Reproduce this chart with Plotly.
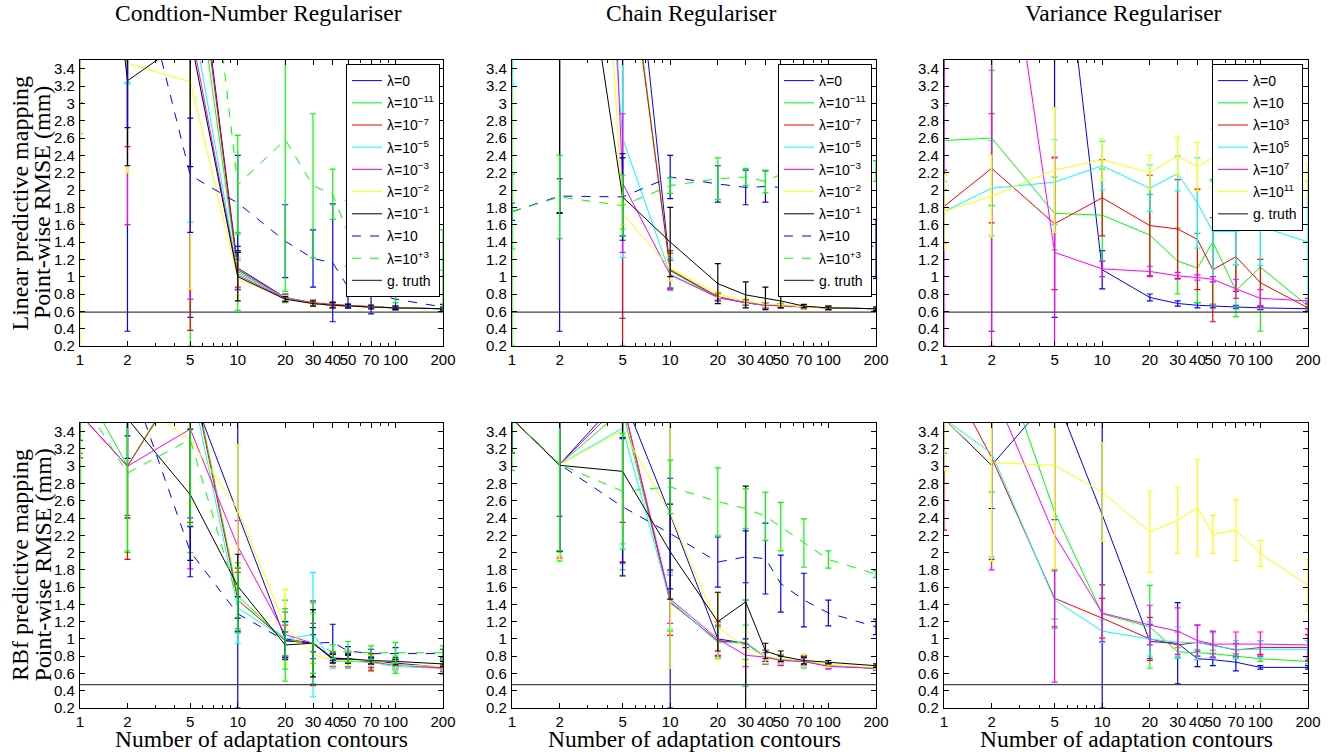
import plotly.graph_objects as go
from plotly.subplots import make_subplots

# ---------------- data ----------------
X_CONTOURS = [1, 2, 5, 10, 20, 30, 40, 50, 70, 100, 200]
X_TICK_LABELS = ["1", "2", "5", "10", "20", "30", "40", "50", "70", "100", "200"]
X_MINOR = [3, 4, 6, 7, 8, 9, 60, 80, 90]
Y_TICKS = [0.2, 0.4, 0.6, 0.8, 1.0, 1.2, 1.4, 1.6, 1.8, 2.0, 2.2, 2.4, 2.6, 2.8, 3.0, 3.2, 3.4]
Y_TICK_LABELS = ["0.2", "0.4", "0.6", "0.8", "1", "1.2", "1.4", "1.6", "1.8", "2",
                 "2.2", "2.4", "2.6", "2.8", "3", "3.2", "3.4"]

PANEL_TITLES = ["Condtion-Number Regulariser", "Chain Regulariser", "Variance Regulariser"]
ROW_TITLES = [("Linear predictive mapping", "Point-wise RMSE (mm)"),
              ("RBf predictive mapping", "Point-wise RMSE (mm)")]
X_TITLE = "Number of adaptation contours"

LAMBDA_CN = ["λ=0", "λ=10<sup>−11</sup>", "λ=10<sup>−7</sup>", "λ=10<sup>−5</sup>",
             "λ=10<sup>−3</sup>", "λ=10<sup>−2</sup>", "λ=10<sup>−1</sup>", "λ=10",
             "λ=10<sup>+3</sup>"]
LAMBDA_VAR = ["λ=0", "λ=10", "λ=10<sup>3</sup>", "λ=10<sup>5</sup>", "λ=10<sup>7</sup>",
              "λ=10<sup>11</sup>"]
GT_LABEL = "g. truth"
GT_LINEAR = 0.59
GT_RBF = 0.47

# Condition-number regulariser, linear mapping (mean RMSE, error half-width)
CN_LIN_Y = [
    [6.0, 5.0, 5.5, 1.10, 0.76, 0.69, 0.67, 0.66, 0.65, 0.64, 0.63],
    [6.0, 5.2, 5.0, 1.06, 0.75, 0.69, 0.67, 0.66, 0.65, 0.64, 0.63],
    [6.0, 5.0, 5.38, 1.08, 0.76, 0.70, 0.68, 0.67, 0.65, 0.64, 0.63],
    [5.5, 4.2, 4.13, 1.04, 0.76, 0.69, 0.67, 0.66, 0.65, 0.64, 0.63],
    [5.5, 4.5, 3.88, 1.02, 0.75, 0.69, 0.67, 0.66, 0.65, 0.64, 0.63],
    [4.0, 3.46, 3.25, 0.98, 0.74, 0.69, 0.67, 0.66, 0.65, 0.64, 0.63],
    [8.0, 3.26, 3.77, 1.00, 0.74, 0.69, 0.67, 0.66, 0.65, 0.64, 0.63],
    [6.0, 5.08, 2.17, 1.85, 1.41, 1.21, 1.16, 0.88, 0.82, 0.74, 0.65],
    [7.0, 6.8, 6.8, 2.06, 2.58, 2.05, 1.95, 1.50, 1.30, 1.20, 1.07],
]
CN_LIN_E = [
    [3.0, 4.63, 4.97, 0.25, 0.04, 0.03, 0.03, 0.02, 0.02, 0.02, 0.02],
    [3.0, 1.96, 4.8, 0.45, 0.05, 0.03, 0.03, 0.02, 0.02, 0.02, 0.02],
    [3.0, 2.5, 5.0, 0.20, 0.04, 0.03, 0.03, 0.02, 0.02, 0.02, 0.02],
    [2.85, 0.98, 2.5, 0.18, 0.04, 0.03, 0.03, 0.02, 0.02, 0.02, 0.02],
    [3.88, 2.9, 3.14, 0.17, 0.04, 0.03, 0.03, 0.02, 0.02, 0.02, 0.02],
    [3.8, 1.26, 2.39, 0.20, 0.04, 0.03, 0.03, 0.02, 0.02, 0.02, 0.02],
    [4.0, 0.98, 1.5, 0.28, 0.03, 0.03, 0.03, 0.02, 0.02, 0.02, 0.02],
    [2.0, 2.36, 0.66, 0.55, 0.42, 0.33, 0.68, 0.24, 0.25, 0.11, 0.03],
    [2.0, 2.0, 3.0, 0.57, 1.75, 0.83, 0.29, 0.38, 0.48, 0.50, 0.47],
]

# Chain regulariser, linear mapping
CH_LIN_Y = [
    [8.0, 7.0, 6.3, 1.07, 0.76, 0.70, 0.67, 0.67, 0.65, 0.64, 0.63],
    [8.0, 7.0, 5.35, 1.07, 0.76, 0.70, 0.67, 0.67, 0.65, 0.64, 0.63],
    [8.0, 7.0, 5.25, 1.08, 0.77, 0.70, 0.67, 0.67, 0.65, 0.64, 0.63],
    [10.0, 12.0, 2.6, 1.03, 0.76, 0.70, 0.67, 0.67, 0.65, 0.64, 0.63],
    [15.0, 20.0, 2.08, 1.02, 0.76, 0.70, 0.67, 0.66, 0.65, 0.64, 0.63],
    [12.0, 14.0, 1.73, 1.10, 0.80, 0.72, 0.68, 0.68, 0.65, 0.64, 0.63],
    [8.0, 6.74, 1.92, 1.40, 0.92, 0.79, 0.75, 0.72, 0.66, 0.64, 0.63],
    [1.75, 1.93, 1.92, 2.15, 2.07, 2.03, 2.04, 2.03, 1.85, 1.75, 1.32],
    [1.75, 1.92, 1.82, 2.05, 2.13, 2.15, 2.10, 2.18, 2.10, 2.15, 2.22],
]
CH_LIN_E = [
    [4.0, 6.63, 5.78, 0.20, 0.04, 0.03, 0.03, 0.02, 0.02, 0.02, 0.02],
    [7.8, 3.0, 3.8, 0.20, 0.04, 0.03, 0.03, 0.02, 0.02, 0.02, 0.02],
    [4.0, 3.0, 5.05, 0.22, 0.04, 0.03, 0.03, 0.02, 0.02, 0.02, 0.02],
    [6.78, 5.0, 1.38, 0.19, 0.04, 0.03, 0.03, 0.02, 0.02, 0.02, 0.02],
    [6.0, 8.0, 0.80, 0.17, 0.04, 0.03, 0.03, 0.02, 0.02, 0.02, 0.02],
    [6.0, 8.0, 0.13, 0.15, 0.04, 0.03, 0.03, 0.02, 0.02, 0.02, 0.02],
    [4.0, 5.0, 0.45, 0.40, 0.23, 0.15, 0.13, 0.08, 0.02, 0.02, 0.02],
    [0.10, 0.20, 0.50, 0.25, 0.21, 0.20, 0.18, 0.24, 0.20, 0.20, 0.34],
    [0.43, 0.48, 0.35, 0.09, 0.24, 0.10, 0.13, 0.17, 0.15, 0.15, 0.12],
]

# Variance regulariser, linear mapping
VA_LIN_Y = [
    [7.0, 6.0, 5.83, 1.08, 0.76, 0.69, 0.67, 0.66, 0.65, 0.64, 0.63],
    [2.57, 2.60, 1.73, 1.71, 1.48, 1.18, 1.10, 1.40, 0.84, 1.11, 0.66],
    [1.81, 2.25, 1.61, 1.91, 1.59, 1.55, 1.43, 1.08, 1.23, 0.93, 0.64],
    [1.75, 2.02, 2.09, 2.28, 2.02, 2.19, 1.85, 1.52, 1.52, 1.58, 1.40],
    [8.0, 6.3, 1.28, 1.09, 1.06, 1.01, 0.99, 0.97, 0.86, 0.75, 0.72],
    [1.75, 1.93, 2.23, 2.35, 2.20, 2.39, 2.27, 2.37, 2.20, 2.15, 2.10],
]
VA_LIN_E = [
    [5.0, 5.63, 5.3, 0.22, 0.04, 0.03, 0.03, 0.02, 0.02, 0.02, 0.02],
    [0.40, 0.78, 0.42, 0.53, 0.47, 0.38, 0.40, 0.72, 0.30, 0.74, 0.05],
    [0.42, 0.63, 0.76, 0.44, 0.58, 0.57, 0.58, 0.60, 0.40, 0.27, 0.05],
    [0.35, 0.55, 0.49, 0.28, 0.27, 0.20, 0.52, 0.58, 0.38, 0.45, 0.70],
    [7.8, 6.1, 1.10, 0.09, 0.06, 0.04, 0.03, 0.03, 0.11, 0.10, 0.03],
    [0.42, 0.47, 0.72, 0.24, 0.20, 0.22, 0.28, 0.34, 0.30, 0.30, 0.20],
]

# Condition-number regulariser, RBF mapping
CN_RBF_Y = [
    [4.5, 3.8, 3.9, 2.45, 1.00, 0.95, 0.78, 0.77, 0.74, 0.72, 0.67],
    [4.0, 3.0, 4.2, 1.50, 0.98, 0.95, 0.77, 0.76, 0.73, 0.70, 0.67],
    [3.6, 3.0, 4.15, 1.45, 0.98, 0.95, 0.77, 0.76, 0.73, 0.70, 0.67],
    [4.0, 3.8, 4.0, 1.36, 1.00, 1.05, 0.74, 0.74, 0.73, 0.68, 0.66],
    [3.6, 3.0, 3.43, 2.07, 1.05, 0.95, 0.76, 0.76, 0.74, 0.70, 0.66],
    [4.0, 3.8, 3.31, 2.50, 1.14, 0.82, 0.75, 0.75, 0.75, 0.70, 0.68],
    [3.8, 3.55, 2.67, 1.61, 0.93, 0.95, 0.77, 0.77, 0.75, 0.74, 0.71],
    [5.0, 4.09, 2.01, 1.29, 0.98, 0.95, 0.96, 0.86, 0.83, 0.83, 0.83],
    [3.8, 2.92, 3.31, 1.45, 1.00, 0.95, 0.85, 0.85, 0.84, 0.84, 0.84],
]
CN_RBF_E = [
    [1.4, 0.45, 1.5, 2.25, 0.20, 0.10, 0.05, 0.05, 0.04, 0.04, 0.03],
    [2.6, 1.0, 2.2, 0.38, 0.47, 0.47, 0.08, 0.10, 0.08, 0.10, 0.08],
    [0.45, 1.08, 1.8, 0.37, 0.18, 0.49, 0.08, 0.07, 0.10, 0.05, 0.04],
    [0.9, 1.4, 1.7, 0.41, 0.20, 0.72, 0.08, 0.07, 0.06, 0.05, 0.04],
    [0.5, 0.57, 1.62, 0.30, 0.26, 0.23, 0.08, 0.08, 0.07, 0.05, 0.04],
    [1.0, 1.4, 0.75, 0.75, 0.43, 0.10, 0.06, 0.06, 0.06, 0.05, 0.04],
    [0.5, 1.15, 0.76, 0.37, 0.15, 0.39, 0.05, 0.05, 0.04, 0.04, 0.03],
    [1.0, 1.0, 0.29, 0.20, 0.22, 0.18, 0.21, 0.05, 0.05, 0.07, 0.05],
    [1.0, 0.9, 1.0, 0.38, 0.35, 0.35, 0.08, 0.12, 0.08, 0.12, 0.08],
]

# Chain regulariser, RBF mapping
CH_RBF_Y = [
    [3.55, 3.02, 3.82, 2.44, 1.00, 0.95, 0.79, 0.76, 0.74, 0.69, 0.66],
    [3.55, 3.02, 3.65, 1.44, 0.97, 0.96, 0.79, 0.76, 0.74, 0.69, 0.66],
    [3.55, 3.02, 3.75, 1.42, 0.98, 0.95, 0.79, 0.76, 0.74, 0.69, 0.66],
    [3.55, 3.02, 3.44, 1.44, 0.96, 0.95, 0.79, 0.76, 0.74, 0.69, 0.66],
    [3.55, 3.02, 3.75, 1.46, 1.00, 0.81, 0.79, 0.75, 0.74, 0.68, 0.66],
    [3.55, 3.02, 3.41, 2.45, 1.14, 0.90, 0.80, 0.77, 0.75, 0.70, 0.67],
    [3.55, 3.01, 2.94, 2.01, 1.20, 1.43, 0.86, 0.80, 0.75, 0.73, 0.69],
    [3.55, 3.02, 2.53, 2.22, 1.89, 1.95, 1.93, 1.64, 1.45, 1.30, 1.14],
    [3.55, 3.02, 2.71, 2.76, 2.59, 2.51, 2.42, 2.30, 2.11, 1.92, 1.75],
]
CH_RBF_E = [
    [0.4, 0.6, 0.5, 2.24, 0.20, 0.05, 0.05, 0.04, 0.04, 0.03, 0.02],
    [0.6, 1.12, 1.85, 0.35, 0.20, 0.20, 0.08, 0.06, 0.06, 0.03, 0.02],
    [0.4, 1.10, 1.40, 0.38, 0.17, 0.50, 0.08, 0.06, 0.06, 0.03, 0.02],
    [0.4, 1.06, 1.34, 0.33, 0.17, 0.50, 0.08, 0.06, 0.08, 0.03, 0.02],
    [0.4, 1.08, 1.88, 0.28, 0.20, 0.13, 0.08, 0.06, 0.06, 0.03, 0.02],
    [0.4, 1.10, 1.66, 1.79, 0.38, 0.18, 0.08, 0.06, 0.07, 0.03, 0.02],
    [0.4, 1.00, 1.05, 0.55, 0.34, 1.34, 0.09, 0.06, 0.04, 0.02, 0.02],
    [0.4, 1.00, 0.80, 0.64, 0.29, 0.30, 0.41, 0.33, 0.31, 0.15, 0.09],
    [0.4, 1.00, 0.67, 0.31, 0.39, 0.23, 0.28, 0.28, 0.28, 0.10, 0.04],
]

# Variance regulariser, RBF mapping
VA_RBF_Y = [
    [3.55, 3.01, 3.85, 2.44, 0.97, 0.95, 0.77, 0.76, 0.73, 0.67, 0.67],
    [4.8, 4.56, 2.47, 1.29, 1.14, 0.85, 0.84, 0.83, 0.80, 0.77, 0.74],
    [4.14, 3.10, 1.47, 1.24, 1.00, 0.93, 0.96, 0.93, 0.87, 0.90, 0.90],
    [3.55, 3.15, 1.45, 1.09, 1.00, 0.96, 0.96, 0.92, 0.88, 0.88, 0.88],
    [5.0, 3.92, 2.20, 1.30, 1.16, 1.09, 0.98, 0.94, 0.94, 0.94, 0.93],
    [3.55, 3.04, 3.01, 2.70, 2.24, 2.37, 2.52, 2.21, 2.26, 1.99, 1.62],
]
VA_RBF_E = [
    [0.4, 0.5, 1.47, 2.24, 0.20, 0.47, 0.09, 0.07, 0.10, 0.02, 0.02],
    [2.0, 1.86, 1.24, 0.33, 0.48, 0.05, 0.04, 0.04, 0.03, 0.03, 0.03],
    [1.88, 1.18, 0.33, 0.23, 0.25, 0.15, 0.20, 0.15, 0.08, 0.08, 0.15],
    [0.4, 1.2, 0.33, 0.13, 0.20, 0.18, 0.20, 0.15, 0.10, 0.10, 0.10],
    [2.0, 2.12, 1.70, 0.33, 0.23, 0.27, 0.18, 0.15, 0.14, 0.14, 0.19],
    [0.6, 1.14, 1.20, 0.57, 0.47, 0.38, 0.56, 0.22, 0.35, 0.15, 0.30],
]

# ---------------- styles ----------------
STYLE_9 = [("#0000ff", "solid"), ("#00ff00", "solid"), ("#ff0000", "solid"),
           ("#00ffff", "solid"), ("#ff00ff", "solid"), ("#ffff00", "solid"),
           ("#000000", "solid"), ("#0000ff", "dash"), ("#00ff00", "dash")]
STYLE_6 = STYLE_9[:6]

SANS = "Liberation Sans, Arial, sans-serif"
SERIF = "Liberation Serif, Times New Roman, serif"

W, H = 1336, 753
COL_PX = [(80, 443), (512, 876), (944, 1308)]
ROW_PX = [(60, 346), (423, 708)]


def px_x(p):
    return p / W


def px_y(p):
    return 1 - p / H


fig = make_subplots(rows=2, cols=3)

panels = [
    (1, 1, CN_LIN_Y, CN_LIN_E, LAMBDA_CN, STYLE_9, GT_LINEAR, "legend"),
    (1, 2, CH_LIN_Y, CH_LIN_E, LAMBDA_CN, STYLE_9, GT_LINEAR, "legend2"),
    (1, 3, VA_LIN_Y, VA_LIN_E, LAMBDA_VAR, STYLE_6, GT_LINEAR, "legend3"),
    (2, 1, CN_RBF_Y, CN_RBF_E, LAMBDA_CN, STYLE_9, GT_RBF, None),
    (2, 2, CH_RBF_Y, CH_RBF_E, LAMBDA_CN, STYLE_9, GT_RBF, None),
    (2, 3, VA_RBF_Y, VA_RBF_E, LAMBDA_VAR, STYLE_6, GT_RBF, None),
]

gcount = 0
for row, col, ys, es, labels, styles, gt, leg in panels:
    for yv, ev, lab, (color, dash) in zip(ys, es, labels, styles):
        gcount += 1
        kw = dict(showlegend=leg is not None, legendgroup=f"g{gcount}")
        if leg is not None:
            kw["legend"] = leg
        fig.add_trace(go.Scatter(
            x=X_CONTOURS, y=yv, name=lab, mode="lines",
            line=dict(color=color, width=1, dash=dash),
            error_y=dict(type="data", array=ev, visible=True, color=color,
                         thickness=1.2, width=3),
            **kw), row=row, col=col)
    gcount += 1
    kw = dict(showlegend=leg is not None, legendgroup=f"g{gcount}")
    if leg is not None:
        kw["legend"] = leg
    fig.add_trace(go.Scatter(
        x=[X_CONTOURS[0], X_CONTOURS[-1]], y=[gt, gt], name=GT_LABEL, mode="lines",
        line=dict(color="#444444", width=1.3), **kw), row=row, col=col)

axis_common = dict(showline=True, linecolor="black", linewidth=1.2, mirror="allticks",
                   ticks="inside", ticklen=5, tickcolor="black", showgrid=False,
                   zeroline=False, automargin=False,
                   tickfont=dict(family=SANS, size=15, color="black"))

for i in range(6):
    r, c = divmod(i, 3)
    x0, x1 = COL_PX[c]
    y0, y1 = ROW_PX[r]
    sfx = "" if i == 0 else str(i + 1)
    fig.update_layout({
        f"xaxis{sfx}": dict(axis_common, type="log", range=[0, 2.30103],
                            domain=[px_x(x0), px_x(x1)], tickmode="array",
                            tickvals=X_CONTOURS, ticktext=X_TICK_LABELS, tickangle=0,
                            minor=dict(tickvals=X_MINOR, ticks="inside", ticklen=3,
                                       tickcolor="black"),
                            ticklabelstandoff=0),
        f"yaxis{sfx}": dict(axis_common, range=[0.2, 3.5],
                            domain=[px_y(y1), px_y(y0)], tickmode="array",
                            tickvals=Y_TICKS, ticktext=Y_TICK_LABELS,
                            ticklabelstandoff=1),
    })

legend_style = dict(bgcolor="white", bordercolor="black", borderwidth=1,
                    font=dict(family=SANS, size=14, color="black"),
                    xanchor="right", yanchor="top", y=px_y(64),
                    tracegroupgap=1, itemwidth=30)
fig.update_layout(
    legend=dict(legend_style, x=px_x(440)),
    legend2=dict(legend_style, x=px_x(872)),
    legend3=dict(legend_style, x=px_x(1303)),
)

annotations = []
for c, t in enumerate(PANEL_TITLES):
    x0, x1 = COL_PX[c]
    annotations.append(dict(text=t, x=px_x((x0 + x1) / 2 - 3), y=px_y(13), xref="paper",
                            yref="paper", showarrow=False, xanchor="center",
                            yanchor="middle", font=dict(family=SERIF, size=23.5, color="black")))
    annotations.append(dict(text=X_TITLE, x=px_x((x0 + x1) / 2), y=px_y(739), xref="paper",
                            yref="paper", showarrow=False, xanchor="center",
                            yanchor="middle", font=dict(family=SERIF, size=23.5, color="black")))
for r, (t1, t2) in enumerate(ROW_TITLES):
    y0, y1 = ROW_PX[r]
    for t, xc in ((t1, 19.5), (t2, 42)):
        annotations.append(dict(text=t, x=px_x(xc), y=px_y((y0 + y1) / 2), xref="paper",
                                yref="paper", showarrow=False, xanchor="center",
                                yanchor="middle", textangle=-90,
                                font=dict(family=SERIF, size=24, color="black")))

fig.update_layout(width=W, height=H, margin=dict(l=0, r=0, t=0, b=0),
                  paper_bgcolor="white", plot_bgcolor="white",
                  annotations=annotations)

fig.write_html("out.html", config={"displayModeBar": False},
               post_script="document.body.style.margin='0px';"
                           "document.body.style.overflow='hidden';")
